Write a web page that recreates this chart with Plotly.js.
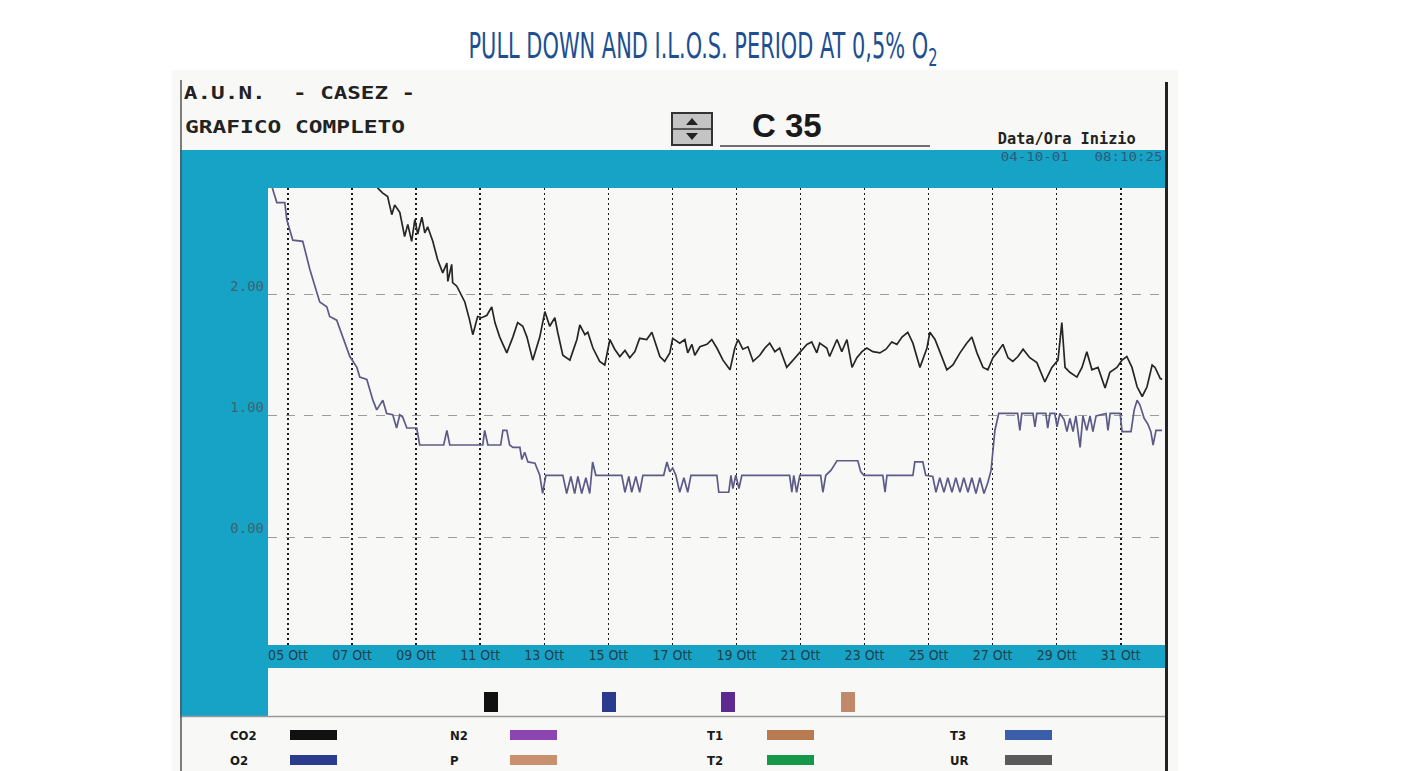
<!DOCTYPE html>
<html>
<head>
<meta charset="utf-8">
<script src="https://cdn.plot.ly/plotly-3.0.1.min.js"></script>
<style>
  html, body { margin: 0; padding: 0; background: #ffffff; }
  #chart { width: 1406px; height: 771px; }
</style>
</head>
<body>
<div id="chart"></div>
<script>
// ---------------- DATA ----------------
const tickDays = [5, 7, 9, 11, 13, 15, 17, 19, 21, 23, 25, 27, 29, 31];
const tickLabels = ["05 Ott", "07 Ott", "09 Ott", "11 Ott", "13 Ott", "15 Ott", "17 Ott",
                    "19 Ott", "21 Ott", "23 Ott", "25 Ott", "27 Ott", "29 Ott", "31 Ott"];
const yTickVals = [0, 1, 2];
const yTickLabels = ["0.00", "1.00", "2.00"];

// O2 (%) vs day of October
const o2Day = [4.43,4.52,4.65,4.90,4.96,5.15,5.46,5.68,5.90,5.99,
  6.21,6.30,6.52,6.68,6.93,7.15,7.24,7.46,7.65,7.77,
  7.96,8.08,8.27,8.39,8.49,8.58,8.71,9.02,9.11,9.86,
  9.96,10.05,11.08,11.14,11.24,11.64,11.71,11.83,11.92,12.02,
  12.24,12.30,12.39,12.49,12.71,12.86,12.95,13.05,13.58,13.70,
  13.83,13.95,14.05,14.17,14.30,14.42,14.51,14.61,15.42,15.52,
  15.64,15.73,15.86,15.98,16.08,16.73,16.83,16.92,17.01,17.11,
  17.23,17.36,17.48,17.58,18.39,18.45,18.76,18.83,18.89,18.98,
  19.08,19.17,20.66,20.73,20.79,20.88,20.98,21.63,21.70,21.79,
  21.95,22.14,22.79,22.88,22.98,23.57,23.64,23.70,24.51,24.57,
  24.82,24.91,25.13,25.23,25.35,25.48,25.60,25.73,25.85,25.98,
  26.10,26.23,26.35,26.48,26.60,26.73,26.85,26.95,27.07,27.19,
  27.78,27.85,27.91,28.26,28.32,28.38,28.66,28.72,28.79,28.94,
  29.01,29.10,29.23,29.32,29.41,29.51,29.60,29.73,29.82,29.94,
  30.04,30.13,30.23,30.54,30.60,30.67,30.98,31.04,31.32,31.42,
  31.51,31.60,31.73,31.85,31.94,32.01,32.10,32.29];
const o2Val = [2.95,2.88,2.76,2.76,2.62,2.45,2.44,2.21,2.02,1.94,
  1.90,1.82,1.79,1.67,1.49,1.40,1.32,1.30,1.13,1.05,
  1.13,1.02,1.01,0.90,1.01,0.99,0.90,0.90,0.76,0.76,
  0.88,0.76,0.76,0.88,0.76,0.76,0.88,0.88,0.76,0.74,
  0.74,0.64,0.70,0.62,0.61,0.51,0.36,0.51,0.51,0.36,
  0.50,0.36,0.50,0.36,0.49,0.36,0.62,0.51,0.51,0.37,
  0.50,0.37,0.50,0.37,0.51,0.51,0.62,0.54,0.57,0.51,
  0.37,0.49,0.37,0.51,0.51,0.37,0.37,0.51,0.40,0.51,
  0.40,0.51,0.51,0.37,0.51,0.37,0.51,0.51,0.37,0.51,
  0.55,0.63,0.63,0.54,0.51,0.51,0.37,0.51,0.51,0.62,
  0.62,0.51,0.50,0.37,0.49,0.37,0.49,0.37,0.49,0.37,
  0.49,0.37,0.49,0.36,0.49,0.36,0.45,0.55,0.88,1.02,
  1.02,0.88,1.02,1.02,0.91,1.02,1.02,0.90,1.02,1.02,
  0.91,1.02,0.97,0.87,0.98,0.87,1.00,0.74,1.00,0.88,
  1.00,0.87,1.00,1.02,0.88,1.02,1.02,0.87,0.87,1.05,
  1.13,1.09,0.98,0.93,0.87,0.76,0.88,0.88];

// CO2 (%) vs day of October
const co2Day = [7.71,7.80,7.95,8.11,8.24,8.33,8.49,8.64,8.74,8.86,
  8.96,9.05,9.18,9.27,9.36,9.52,9.67,9.83,9.96,9.99,
  10.11,10.14,10.27,10.36,10.52,10.67,10.77,10.92,11.05,11.21,
  11.36,11.46,11.61,11.83,12.02,12.17,12.33,12.46,12.64,12.86,
  13.02,13.17,13.33,13.42,13.58,13.80,14.02,14.11,14.27,14.36,
  14.52,14.73,14.89,15.05,15.20,15.36,15.52,15.67,15.83,15.98,
  16.20,16.36,16.48,16.61,16.76,16.92,17.01,17.23,17.39,17.48,
  17.61,17.70,17.86,18.08,18.23,18.39,18.58,18.80,18.95,19.05,
  19.20,19.36,19.52,19.73,19.89,20.04,20.20,20.35,20.57,20.76,
  20.98,21.20,21.35,21.51,21.60,21.82,21.91,22.14,22.29,22.45,
  22.61,22.76,22.92,23.07,23.26,23.48,23.67,23.85,24.01,24.17,
  24.35,24.51,24.73,24.95,25.04,25.20,25.35,25.57,25.76,25.98,
  26.19,26.35,26.51,26.70,26.85,27.01,27.16,27.32,27.48,27.63,
  27.79,27.95,28.16,28.38,28.63,28.85,29.04,29.16,29.26,29.41,
  29.63,29.79,29.94,30.10,30.29,30.51,30.66,30.88,31.04,31.19,
  31.35,31.51,31.67,31.82,31.98,32.07,32.23,32.29];
const co2Val = [2.95,2.88,2.84,2.81,2.66,2.74,2.68,2.48,2.58,2.44,
  2.62,2.50,2.64,2.51,2.56,2.44,2.29,2.18,2.26,2.11,
  2.25,2.10,2.07,2.02,1.94,1.79,1.67,1.82,1.81,1.83,
  1.90,1.77,1.65,1.52,1.65,1.77,1.74,1.65,1.46,1.65,
  1.86,1.74,1.81,1.69,1.50,1.46,1.63,1.75,1.67,1.69,
  1.56,1.45,1.42,1.63,1.55,1.49,1.54,1.48,1.53,1.64,
  1.63,1.69,1.60,1.49,1.45,1.52,1.64,1.60,1.63,1.52,
  1.59,1.50,1.57,1.59,1.63,1.56,1.46,1.38,1.56,1.63,
  1.55,1.57,1.45,1.50,1.56,1.60,1.53,1.56,1.40,1.46,
  1.53,1.59,1.61,1.52,1.60,1.56,1.49,1.63,1.53,1.63,
  1.40,1.48,1.53,1.56,1.53,1.52,1.55,1.61,1.59,1.65,
  1.69,1.60,1.40,1.56,1.69,1.63,1.53,1.38,1.42,1.52,
  1.60,1.65,1.52,1.40,1.38,1.48,1.53,1.59,1.48,1.45,
  1.49,1.55,1.48,1.44,1.28,1.40,1.46,1.77,1.40,1.36,
  1.32,1.40,1.53,1.38,1.40,1.23,1.36,1.40,1.46,1.49,
  1.40,1.24,1.16,1.24,1.42,1.40,1.31,1.30];

// Legend of the recorder screen
const legendLabels = ["CO2", "O2", "N2", "P", "T1", "T2", "T3", "UR"];
const legendColors = ["#111111", "#2c3d8f", "#8b44b0", "#c8906e", "#b87a50", "#16984a", "#3b5ea8", "#5a5a5a"];
const channelSquareColors = ["#111111", "#2a3a8f", "#5e2a8f", "#c0896a"];

// ---------------- LAYOUT HELPERS ----------------
const L = 268, R = 1164, T = 188, B = 645;          // plot area in pixels
const px = x => (x - L) / (R - L);
const py = y => (B - y) / (B - T);
const CYAN = "#17a3c6";

const shapes = [];
const annotations = [];
const fitWidths = [];       // desired rendered width (px) for some annotations
function rect(x0, y0, x1, y1, fill, line) {
  shapes.push({type: "rect", xref: "paper", yref: "paper", layer: "below",
    x0: px(x0), x1: px(x1), y0: py(y1), y1: py(y0),
    fillcolor: fill, line: line || {width: 0}});
}
function hline(x0, x1, y, color, w) {
  shapes.push({type: "line", xref: "paper", yref: "paper", layer: "above",
    x0: px(x0), x1: px(x1), y0: py(y), y1: py(y), line: {color: color, width: w}});
}
function vline(x, y0, y1, color, w) {
  shapes.push({type: "line", xref: "paper", yref: "paper", layer: "above",
    x0: px(x), x1: px(x), y0: py(y0), y1: py(y1), line: {color: color, width: w}});
}
// text starting at pixel x; if width given, it is centred on x+width/2 and fitted to that width
function text(t, x, y, font, width) {
  const ann = {text: t, xref: "paper", yref: "paper", y: py(y),
    yanchor: "middle", showarrow: false, font: font};
  if (width) { ann.x = px(x + width / 2); ann.xanchor = "center"; }
  else { ann.x = px(x); ann.xanchor = "left"; }
  annotations.push(ann);
  fitWidths.push(width || null);
}

// screen frame
rect(172, 70, 1178, 771, "#f8f8f6");
rect(180, 150, 1166, 188, CYAN);           // top bar
rect(180, 150, 268, 716, CYAN);            // left bar
rect(268, 645, 1166, 668, CYAN);           // x-label bar
hline(180, 1166, 716.5, "#9a9a9a", 1.5);
vline(181, 80, 771, "#555555", 1.5);
vline(1166.5, 82, 771, "#222222", 3);

// header
const mono = "DejaVu Sans Mono, Liberation Mono, monospace";
text("<b>A.U.N.</b>", 183, 93, {family: mono, size: 17, color: "#222"}, 82);
text("<b>- CASEZ -</b>", 293, 93, {family: mono, size: 17, color: "#222"}, 122);
text("<b>GRAFICO COMPLETO</b>", 185, 127, {family: mono, size: 17, color: "#222"}, 220);
text("<b>C 35</b>", 750, 125, {family: "Liberation Sans, Arial, sans-serif", size: 33, color: "#1a1a1a"});
hline(720, 930, 146, "#444444", 1.5);
text("<b>Data/Ora Inizio</b>", 997, 139, {family: mono, size: 15, color: "#222"}, 138);
text("04-10-01   08:10:25", 1000, 157, {family: mono, size: 12, color: "#2f5a78"}, 162);

// up/down selector icon
rect(672, 113, 712, 145, "#c4c4c4", {color: "#333", width: 2});
hline(672, 712, 129, "#333", 1.5);
shapes.push({type: "path", xref: "paper", yref: "paper", layer: "above",
  path: `M ${px(686)} ${py(125)} L ${px(698)} ${py(125)} L ${px(692)} ${py(118)} Z`,
  fillcolor: "#222", line: {width: 0}});
shapes.push({type: "path", xref: "paper", yref: "paper", layer: "above",
  path: `M ${px(686)} ${py(133)} L ${px(698)} ${py(133)} L ${px(692)} ${py(140)} Z`,
  fillcolor: "#222", line: {width: 0}});

// channel squares
const squareX = [491, 609, 728, 848];
channelSquareColors.forEach((c, i) => rect(squareX[i] - 7, 692, squareX[i] + 7, 712, c));

// legend
const legX = [228, 228, 448, 448, 705, 705, 948, 948];
const legY = [735, 760, 735, 760, 735, 760, 735, 760];
const swX = [290, 290, 510, 510, 767, 767, 1005, 1005];
legendLabels.forEach((lab, i) => {
  text("<b>" + lab + "</b>", legX[i], legY[i],
       {family: "DejaVu Sans Condensed, DejaVu Sans, sans-serif", size: 13, color: "#1a1a1a"});
  rect(swX[i], legY[i] - 5, swX[i] + 47, legY[i] + 5, legendColors[i]);
});

// ---------------- TRACES ----------------
const traces = [
  {x: co2Day, y: co2Val, type: "scatter", mode: "lines", name: "CO2",
   line: {color: "#262626", width: 1.7}, hoverinfo: "x+y"},
  {x: o2Day, y: o2Val, type: "scatter", mode: "lines", name: "O2",
   line: {color: "#5d5a88", width: 1.7}, hoverinfo: "x+y"}
];

const layout = {
  width: 1406, height: 771,
  margin: {l: L, r: 1406 - R, t: T, b: 771 - B, pad: 0},
  paper_bgcolor: "#ffffff",
  plot_bgcolor: "rgba(0,0,0,0)",
  showlegend: false,
  title: {
    text: "PULL DOWN AND I.L.O.S. PERIOD AT 0,5% O<sub>2</sub>",
    font: {family: "DejaVu Sans Condensed, DejaVu Sans, sans-serif", size: 35, color: "#1d4f91"},
    x: 0.5, xanchor: "center", y: 1 - 46 / 771, yanchor: "middle", xref: "container", yref: "container"
  },
  xaxis: {
    range: [4.375, 32.35], tickvals: tickDays, ticktext: tickLabels,
    showgrid: true, gridcolor: "#1a1a1a", gridwidth: 1.5, griddash: "2px,3px",
    zeroline: false, showline: false, ticks: "", fixedrange: true,
    tickfont: {family: "DejaVu Sans Condensed, DejaVu Sans, sans-serif", size: 14, color: "#22404c"}
  },
  yaxis: {
    range: [-0.89, 2.88], tickvals: yTickVals, ticktext: yTickLabels,
    showgrid: true, gridcolor: "#9c9c9c", gridwidth: 1, griddash: "dash",
    zeroline: false, showline: false, ticks: "", fixedrange: true,
    ticklabelshift: -9, ticklabelstandoff: 3,
    tickfont: {family: mono, size: 14, color: "#3f6470"}
  },
  shapes: shapes,
  annotations: annotations
};

Plotly.newPlot("chart", traces, layout, {displayModeBar: false, staticPlot: true}).then(gd => {
  // squeeze / stretch texts to the widths measured on the original screen
  const t = gd.querySelector(".gtitle");
  if (t) { t.setAttribute("textLength", 469); t.setAttribute("lengthAdjust", "spacingAndGlyphs"); }
  gd.querySelectorAll(".annotation").forEach((g, i) => {
    const w = fitWidths[i];
    const el = g.querySelector("text.annotation-text");
    if (w && el) { el.setAttribute("textLength", w); el.setAttribute("lengthAdjust", "spacingAndGlyphs"); }
  });
});
</script>
</body>
</html>
